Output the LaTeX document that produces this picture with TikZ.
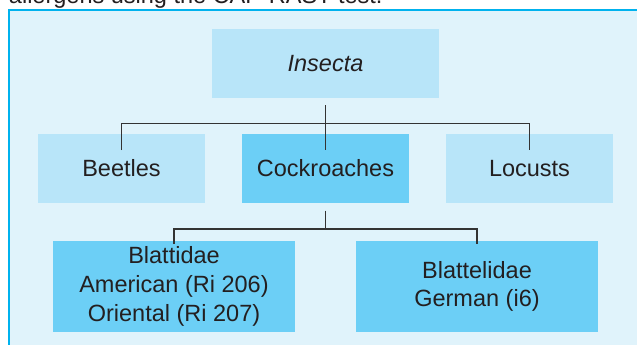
\documentclass[tikz,border=0pt]{standalone}
\usepackage{fontspec}
\setmainfont{Liberation Sans}
\definecolor{framefill}{HTML}{E0F3FB}
\definecolor{frameline}{HTML}{00B2EE}
\definecolor{lightbox}{HTML}{B8E5F9}
\definecolor{darkbox}{HTML}{6CCFF6}
\definecolor{txt}{HTML}{231F20}
\definecolor{conncol}{HTML}{333333}
\tikzset{
  base/.style={inner sep=0pt, outer sep=0pt, align=center, text=txt,
    font=\fontsize{23.5}{28.6}\selectfont},
  lightnode/.style={base, fill=lightbox},
  darknode/.style={base, fill=darkbox},
  conn/.style={draw=conncol, line width=1.1pt},
}
\begin{document}
\begin{tikzpicture}[x=1pt,y=-1pt]
\useasboundingbox (0,0) rectangle (637,345);
\fill[white] (0,0) rectangle (637,345);
% cut-off caption line above the frame
\node[base, anchor=base west] (caption) at (9,3.5) {allergens using the CAP-RAST test.};
% frame
\draw[frameline, fill=framefill, line width=2pt] (9.3,10) rectangle (660,370);
% nodes
\node[lightnode, minimum width=227pt, minimum height=68.7pt] (insecta) at (325.5,63.4) {\itshape Insecta};
\node[lightnode, minimum width=167pt, minimum height=69pt] (beetles) at (121.5,168.5) {Beetles};
\node[darknode, minimum width=167pt, minimum height=69pt] (cockroaches) at (325.5,168.5) {Cockroaches};
\node[lightnode, minimum width=167pt, minimum height=69pt] (locusts) at (529.5,168.5) {Locusts};
\node[darknode, minimum width=242pt, minimum height=91pt] (blattidae) at (174,286.5) {Blattidae\\American (Ri 206)\\Oriental (Ri 207)};
\node[darknode, minimum width=242pt, minimum height=91pt] (blattelidae) at (477,286.5) {Blattelidae\\German (i6)};
% connectors
\coordinate (busA) at (0,123.3);
\coordinate (busB) at (0,229);
\draw[conn] ([yshift=-16pt]beetles.north) -- (beetles.north |- busA) -- (locusts.north |- busA) -- ([yshift=-16pt]locusts.north);
\draw[conn] ([yshift=-7.3pt]insecta.south) -- ([yshift=-16pt]cockroaches.north);
\draw[conn] ([yshift=-7.7pt]cockroaches.south) -- (cockroaches.south |- busB);
\draw[conn] ([yshift=-3pt]blattidae.north) -- (blattidae.north |- busB) -- (blattelidae.north |- busB) -- ([yshift=-3pt]blattelidae.north);
\end{tikzpicture}
\end{document}
